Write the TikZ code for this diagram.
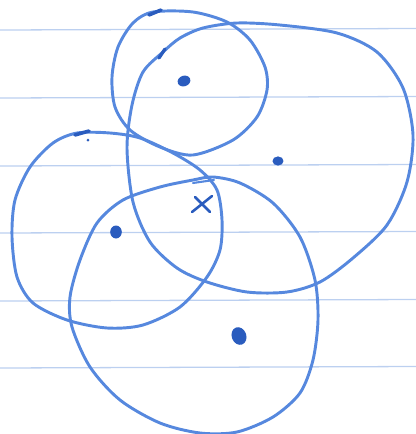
\documentclass[tikz,border=0pt]{standalone}
\definecolor{ink}{RGB}{86,136,222}
\definecolor{inkdark}{RGB}{42,92,190}
\definecolor{ruling}{RGB}{188,208,240}
\begin{document}
\begin{tikzpicture}[x=0.03cm,y=-0.03cm,line cap=round,line join=round,
    pen/.style={draw=ink,line width=2.5pt},
    blot/.style={fill=inkdark}]
  \useasboundingbox (0,0) rectangle (416,434);
  % Linien des Papiers
  \foreach \y in {30,98,166,233,301,368} {
    \draw[ruling,line width=1.1pt] (0,\y) -- (416,{\y-1.5});
  }
  % oberer kleiner Kreis
  \draw[pen] plot[smooth cycle] coordinates {
    (153,12) (193,12) (227,22) (250,40) (265,67) (267,90) (257,117)
    (233,140) (193,155) (160,147) (130,130) (115,107) (112,77)
    (118,47) (133,23)};
  % grosser Kreis rechts
  \draw[pen] plot[smooth cycle] coordinates {
    (163,52) (180,38) (203,28) (237,23) (280,25) (337,33) (377,52)
    (403,88) (413,135) (407,182) (387,225) (353,258) (320,282)
    (287,292) (247,292) (207,282) (177,268) (150,242) (133,202)
    (127,148) (132,105) (143,72)};
  % linker Kreis
  \draw[pen] plot[smooth cycle] coordinates {
    (77,133) (110,133) (140,138) (173,153) (200,170) (217,190)
    (222,220) (220,250) (207,277) (180,307) (143,325) (107,328)
    (67,320) (33,303) (17,277) (12,237) (15,200) (30,167) (53,143)};
  % unterer Kreis
  \draw[pen] plot[smooth cycle] coordinates {
    (213,177) (240,183) (273,203) (300,237) (315,280) (318,320)
    (313,360) (300,393) (273,417) (237,432) (200,433) (160,423)
    (120,400) (90,367) (72,327) (70,297) (80,260) (97,223)
    (123,200) (160,187) (193,180)};
  % Mittelpunkte
  \coordinate (mTop) at (184,81);
  \coordinate (mRight) at (278,161);
  \coordinate (mLeft) at (116,232);
  \coordinate (mBottom) at (239,336);
  \fill[blot,rotate around={20:(mTop)}] (mTop) ellipse[x radius=6.5,y radius=5.3];
  \fill[blot] (mRight) ellipse[x radius=5.5,y radius=4.6];
  \fill[blot] (mLeft) ellipse[x radius=5.8,y radius=6.5];
  \fill[blot,rotate around={20:(mBottom)}] (mBottom) ellipse[x radius=7.3,y radius=9];
  % Tintenflecken
  \draw[inkdark,line width=3pt] (149,15) -- (161,10);
  \draw[inkdark,line width=2.8pt] (159,58) -- (165,49);
  \draw[inkdark,line width=3pt] (75,135) -- (89,131);
  \fill[inkdark] (88,140) circle[radius=1.5];
  % Kreuz und Strich
  \coordinate (xMark) at (202,205);
  \draw[inkdark,line width=2.2pt] (195,197) -- (210,212);
  \draw[inkdark,line width=2.2pt] (192,212) -- (212,196);
  \draw[ink,line width=1.8pt] (193,183) -- (214,180);
\end{tikzpicture}
\end{document}
